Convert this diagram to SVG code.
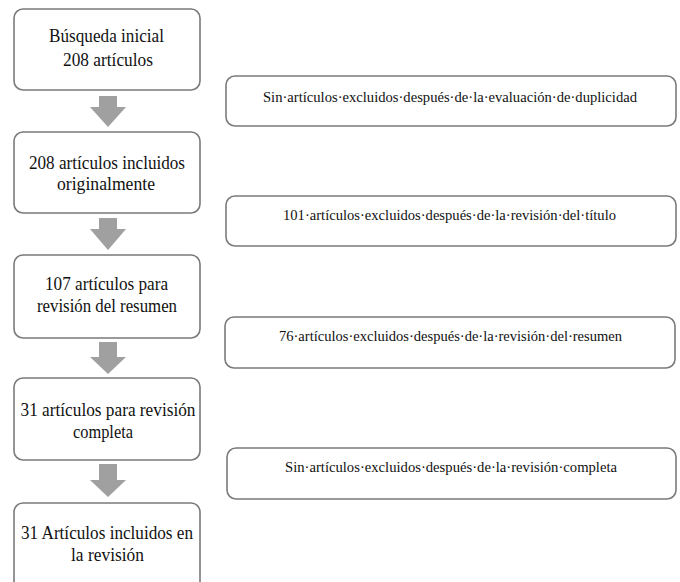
<svg xmlns="http://www.w3.org/2000/svg" width="680" height="582" viewBox="0 0 680 582">
<style>
.box{fill:#fff;stroke:#7a7a7a;stroke-width:1.6}
.main{font-size:18px;fill:#111;text-anchor:middle}
.side{font-size:15px;fill:#111;text-anchor:middle}
.arr{fill:#a0a0a0}
</style>
<rect width="680" height="582" fill="#fff"/>
<g id="connectors">
<path class="arr" d="M99,96 H117 V107 H126 L108,127 L90,107 H99 Z"/>
<path class="arr" d="M99,218 H117 V229 H126 L108,250 L90,229 H99 Z"/>
<path class="arr" d="M99,342 H117 V357 H126 L108,374 L90,357 H99 Z"/>
<path class="arr" d="M99,464 H117 V480 H126 L108,497 L90,480 H99 Z"/>
</g>
<g font-family="'Liberation Serif', 'DejaVu Serif', serif">
<g id="n1"><rect class="box" x="14" y="9" width="186" height="81" rx="9"/>
<text class="main" x="106.5" y="42" textLength="115" lengthAdjust="spacingAndGlyphs">Búsqueda inicial</text>
<text class="main" x="108" y="66" textLength="90" lengthAdjust="spacingAndGlyphs">208 artículos</text></g>
<g id="n2"><rect class="box" x="14" y="132" width="186" height="81" rx="9"/>
<text class="main" x="107" y="169" textLength="156" lengthAdjust="spacingAndGlyphs">208 artículos incluidos</text>
<text class="main" x="106" y="190" textLength="98" lengthAdjust="spacingAndGlyphs">originalmente</text></g>
<g id="n3"><rect class="box" x="14" y="255" width="186" height="83" rx="9"/>
<text class="main" x="106.5" y="290" textLength="123" lengthAdjust="spacingAndGlyphs">107 artículos para</text>
<text class="main" x="107" y="312" textLength="140" lengthAdjust="spacingAndGlyphs">revisión del resumen</text></g>
<g id="n4"><rect class="box" x="14" y="378" width="186" height="82" rx="9"/>
<text class="main" x="108" y="416" textLength="175" lengthAdjust="spacingAndGlyphs">31 artículos para revisión</text>
<text class="main" x="103" y="438" textLength="60" lengthAdjust="spacingAndGlyphs">completa</text></g>
<g id="n5"><rect class="box" x="14" y="503" width="186" height="88" rx="9"/>
<text class="main" x="107" y="539" textLength="172" lengthAdjust="spacingAndGlyphs">31 Artículos incluidos en</text>
<text class="main" x="107.5" y="561" textLength="73" lengthAdjust="spacingAndGlyphs">la revisión</text></g>
<g id="s1"><rect class="box" x="226" y="76" width="450" height="50" rx="9"/>
<text class="side" x="450" y="102" textLength="374" lengthAdjust="spacingAndGlyphs">Sin·artículos·excluidos·después·de·la·evaluación·de·duplicidad</text></g>
<g id="s2"><rect class="box" x="226" y="196" width="450" height="50" rx="9"/>
<text class="side" x="449.5" y="220" textLength="333" lengthAdjust="spacingAndGlyphs">101·artículos·excluidos·después·de·la·revisión·del·título</text></g>
<g id="s3"><rect class="box" x="225" y="317" width="450" height="51" rx="9"/>
<text class="side" x="450.5" y="341" textLength="343" lengthAdjust="spacingAndGlyphs">76·artículos·excluidos·después·de·la·revisión·del·resumen</text></g>
<g id="s4"><rect class="box" x="227" y="448" width="449" height="51" rx="9"/>
<text class="side" x="451" y="472" textLength="332" lengthAdjust="spacingAndGlyphs">Sin·artículos·excluidos·después·de·la·revisión·completa</text></g>
</g>
</svg>
